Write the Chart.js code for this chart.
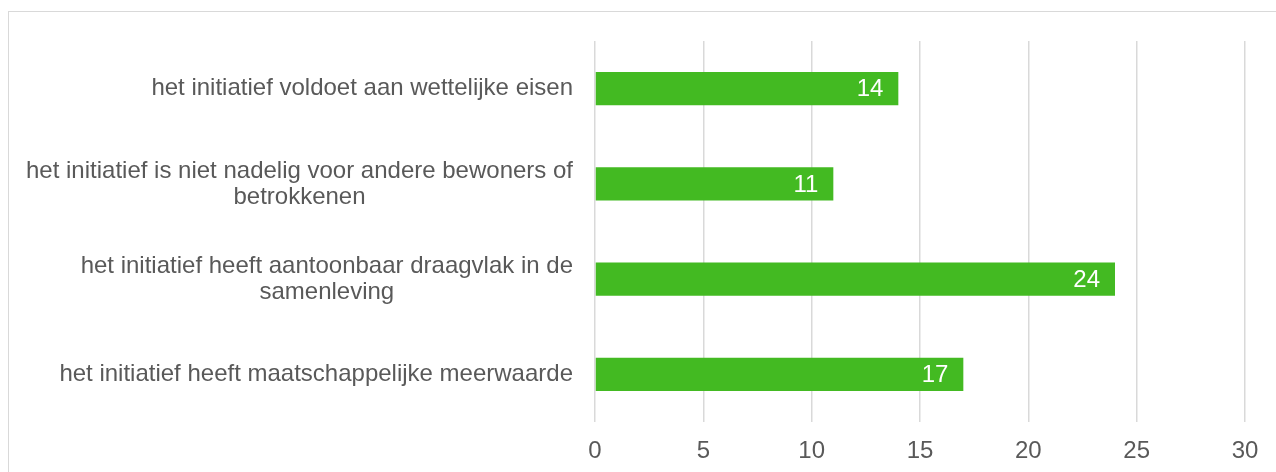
<!DOCTYPE html>
<html>
<head>
<meta charset="utf-8">
<script src="https://cdn.jsdelivr.net/npm/chart.js@4/dist/chart.umd.min.js"></script>
<style>
  html, body { margin: 0; padding: 0; background: #ffffff; }
  #wrap { position: relative; width: 1276px; height: 472px; overflow: hidden; }
  #frame { position: absolute; left: 8px; top: 11px; width: 1400px; height: 600px; border: 1px solid #d9d9d9; box-sizing: border-box; }
  #chart { position: absolute; left: 0; top: 0; }
</style>
</head>
<body>
<div id="wrap">
  <div id="frame"></div>
  <canvas id="chart" width="1276" height="472"></canvas>
</div>
<script>
// categories (multi-line as in the original)
const categories = [
    ["het initiatief voldoet aan wettelijke eisen"],
    ["het initiatief is niet nadelig voor andere bewoners of", "betrokkenen"],
    ["het initiatief heeft aantoonbaar draagvlak in de", "samenleving"],
    ["het initiatief heeft maatschappelijke meerwaarde"]
];
const counts = [14, 11, 24, 17];
const xTicks = [0, 5, 10, 15, 20, 25, 30];

const textColor = "#595959";
const barColor = "#43ba22";
const fontFamily = "'Liberation Sans', Arial, sans-serif";

// draws y labels right-aligned as a block, lines centered within it
const yLabelPlugin = {
    id: "yLabels",
    afterDraw(chart) {
        const ctx = chart.ctx;
        const y = chart.scales.y;
        ctx.save();
        ctx.font = `24px ${fontFamily}`;
        ctx.fillStyle = textColor;
        ctx.textAlign = "center";
        ctx.textBaseline = "middle";
        const right = y.right - 22;
        const lineH = 26;
        categories.forEach((lines, i) => {
            const maxW = Math.max(...lines.map(l => ctx.measureText(l).width));
            const cx = right - maxW / 2;
            const cy = y.getPixelForTick(i);
            const startY = cy - (lines.length - 1) * lineH / 2;
            lines.forEach((l, j) => ctx.fillText(l, cx, startY + j * lineH));
        });
        ctx.restore();
    }
};

// value labels inside the bar end
const valueLabelPlugin = {
    id: "valueLabels",
    afterDatasetsDraw(chart) {
        const ctx = chart.ctx;
        const meta = chart.getDatasetMeta(0);
        ctx.save();
        ctx.font = `24px ${fontFamily}`;
        ctx.fillStyle = "#ffffff";
        ctx.textAlign = "right";
        ctx.textBaseline = "middle";
        meta.data.forEach((bar, i) => {
            ctx.fillText(String(counts[i]), bar.x - 15, bar.y + 1);
        });
        ctx.restore();
    }
};

new Chart(document.getElementById("chart"), {
    type: "bar",
    data: {
        labels: categories,
        datasets: [
            {
                data: counts,
                backgroundColor: barColor,
                borderWidth: 0,
                categoryPercentage: 0.7,
                barPercentage: 0.5
            }
        ]
    },
    options: {
        indexAxis: "y",
        responsive: false,
        animation: false,
        layout: {
            padding: { left: 0, right: 31, top: 41, bottom: 6 }
        },
        plugins: {
            legend: { display: false },
            tooltip: { enabled: false }
        },
        scales: {
            x: {
                min: 0,
                max: 30,
                afterBuildTicks: scale => {
                    scale.ticks = xTicks.map(v => ({ value: v }));
                },
                afterFit: scale => {
                    scale.height = 44;
                },
                grid: {
                    color: "#d9d9d9",
                    lineWidth: 1.5,
                    drawTicks: false
                },
                border: { display: false },
                ticks: {
                    color: textColor,
                    padding: 15,
                    font: { size: 24, family: fontFamily }
                }
            },
            y: {
                afterFit: scale => {
                    scale.width = 595;
                },
                grid: { display: false },
                border: { display: false },
                ticks: { display: false }
            }
        }
    },
    plugins: [yLabelPlugin, valueLabelPlugin]
});
</script>
</body>
</html>
